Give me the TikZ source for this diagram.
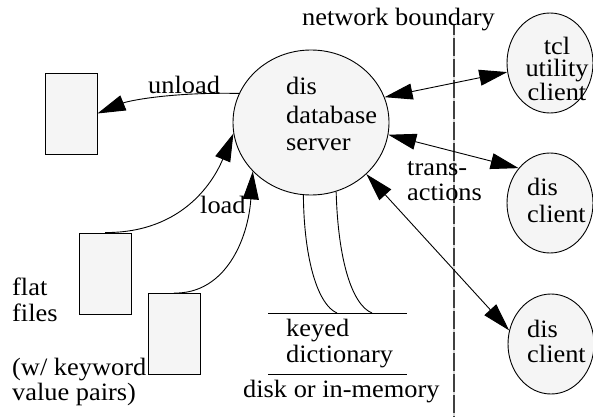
\documentclass[tikz,border=0pt]{standalone}
\usepackage{fontspec}
\setmainfont{Liberation Serif}[FakeStretch=1.055]
\usetikzlibrary{shapes.geometric,arrows.meta}
\definecolor{boxfill}{HTML}{F5F5F5}
\begin{document}
\begin{tikzpicture}[x=1pt,y=-1pt,
  txt/.style={inner sep=0pt, anchor=base west, font=\fontsize{25}{27}\selectfont},
  ctxt/.style={inner sep=0pt, anchor=base, font=\fontsize{25}{27}\selectfont},
  proc/.style={ellipse, draw, line width=0.9pt, fill=boxfill, inner sep=0pt},
  filebox/.style={rectangle, draw, line width=0.9pt, fill=boxfill, minimum width=52pt, minimum height=81pt, inner sep=0pt},
  conn/.style={line width=0.9pt},
  head/.style={-{Triangle[length=28pt,width=16pt]}},
  bothheads/.style={{Triangle[length=28pt,width=16pt]}-{Triangle[length=28pt,width=16pt]}}]
\useasboundingbox (0,0) rectangle (593,417);

% network boundary
\coordinate (nbtop) at (454,25);
\coordinate (nbbot) at (454,417);
\draw[line width=1.6pt, gray!30] (nbtop) -- (nbbot);
\draw[line width=1.6pt, black!75, dash pattern=on 18pt off 3pt, dash phase=8pt] (nbtop) -- (nbbot);
\node[txt] (nblabel) at (302,26) {network boundary};

% server
\node[proc, minimum width=156pt, minimum height=145pt] (srv) at (311,122.5) {};
\node[txt] (srvA) at (286,95) {dis};
\node[txt] (srvB) at (286,123) {database};
\node[txt] (srvC) at (286,150) {server};

% clients
\node[proc, minimum width=86pt, minimum height=100pt] (tcl) at (550,63) {};
\node[ctxt] (tclA) at (557,55) {tcl};
\node[ctxt] (tclB) at (557,77) {utility};
\node[ctxt] (tclC) at (557,100) {client};

\node[proc, minimum width=86pt, minimum height=100pt] (c1) at (550,203) {};
\node[txt] (c1A) at (527,195) {dis};
\node[txt] (c1B) at (527,222) {client};

\node[proc, minimum width=86pt, minimum height=100pt] (c2) at (551,344) {};
\node[txt] (c2A) at (527,337) {dis};
\node[txt] (c2B) at (527,362) {client};

% flat files
\node[filebox] (f1) at (71,113.5) {};
\node[filebox] (f2) at (105,273.5) {};
\node[filebox] (f3) at (174,334) {};

\node[txt] (flA) at (12,295) {flat};
\node[txt] (flB) at (12,321) {files};
\node[txt] (flC) at (12,375) {(w/ keyword};
\node[txt] (flD) at (12,400) {value pairs)};

% unload / load
\draw[conn, head] (srv.158) .. controls (170,92) and (128,101) .. (f1.east);
\node[txt] (unl) at (148,94) {unload};
\draw[conn, head] (f2.north) .. controls (185,233) and (215,178) .. (srv.188);
\draw[conn, head] (f3.north) .. controls (225,294) and (248,240) .. (srv.220);
\node[txt] (ld) at (200,213) {load};

% transactions
\draw[conn, bothheads] (srv.19) -- (tcl.192);
\draw[conn, bothheads] (srv.-9) -- (c1.132);
\draw[conn, bothheads] (srv.-43) -- (c2.162);
\node[txt] (trA) at (407,175) {trans-};
\node[txt] (trB) at (407,200) {actions};

% keyed dictionary store
\coordinate (k1) at (337,313);
\coordinate (k2) at (372,313);
\coordinate (stL) at (268,313);
\coordinate (stR) at (407,313);
\coordinate (sbL) at (268,374);
\coordinate (sbR) at (407,374);
\draw[conn] (srv.-96) .. controls (304,260) and (318,305) .. (k1);
\draw[conn] (srv.-70) .. controls (338,260) and (352,305) .. (k2);
\draw[conn] (stL) -- (stR);
\draw[conn] (sbL) -- (sbR);
\node[txt] (kdA) at (286,336) {keyed};
\node[txt] (kdB) at (286,362) {dictionary};
\node[txt] (kdC) at (243,397) {disk or in-memory};
\end{tikzpicture}
\end{document}
